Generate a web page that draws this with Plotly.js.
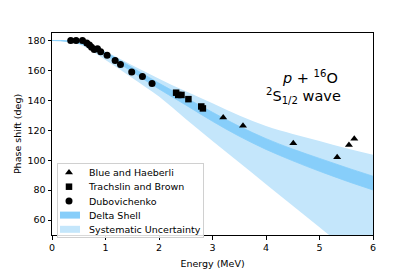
<!DOCTYPE html>
<html><head><meta charset="utf-8">
<script src="https://cdn.plot.ly/plotly-3.0.1.min.js"></script>
<style>html,body{margin:0;padding:0;background:#fff}#c{width:415px;height:277px}</style>
</head><body><div id="c"></div>
<script>
// Band grid (MeV)
const bandE = [0, 0.5, 1, 1.5, 2, 2.5, 3, 3.5, 4, 4.5, 5, 5.5, 6];
const deltaHigh = [180, 178.9, 171.9, 161.9, 151.4, 141.7, 132, 122.6, 114.4, 107.4, 101.2, 95.1, 89.3];
const deltaLow  = [180, 178.1, 170.1, 159.1, 147.6, 136.9, 126, 116, 107.2, 99.6, 92.6, 86.1, 80.1];
const sysHigh   = [180, 179, 172.5, 163.5, 154.5, 146, 138, 129.8, 122.8, 117.5, 112.8, 108, 103.7];
const sysLow    = [180, 177.5, 167, 155, 142.5, 127.5, 112.8, 98.4, 84, 69.6, 55.2, 40.8, 26.4];

// Data points
const blueE = [3.20, 3.57, 4.51, 5.33, 5.55, 5.65];
const blueD = [128.6, 123.0, 111.4, 102.0, 110.2, 114.4];
const trachE = [2.32, 2.36, 2.42, 2.55, 2.79, 2.82];
const trachD = [145.1, 143.6, 143.6, 140.8, 135.9, 134.6];
const dubE = [0.35, 0.45, 0.57, 0.65, 0.70, 0.74, 0.79, 0.85, 0.91, 1.03, 1.18, 1.28, 1.49, 1.69, 1.87];
const dubD = [180, 180, 180, 178.3, 177, 175.4, 174, 174.4, 172.5, 170.1, 166.7, 163.9, 159, 156, 151.3];

const xTicks = [0, 1, 2, 3, 4, 5, 6];
const yTicks = [60, 80, 100, 120, 140, 160, 180];

const FONT = 'DejaVu Sans, sans-serif';
const sysColor = 'rgb(196,230,251)';
const deltaColor = 'rgb(135,206,250)';

const traces = [
  {x: bandE, y: sysLow, mode: 'lines', line: {width: 0, shape: 'spline'}, showlegend: false, hoverinfo: 'skip'},
  {x: bandE, y: sysHigh, mode: 'lines', fill: 'tonexty', fillcolor: sysColor, line: {width: 0, shape: 'spline', color: sysColor},
   name: 'Systematic Uncertainty', legendrank: 5},
  {x: bandE, y: deltaLow, mode: 'lines', line: {width: 0.8, shape: 'spline', color: deltaColor}, showlegend: false, hoverinfo: 'skip'},
  {x: bandE, y: deltaHigh, mode: 'lines', fill: 'tonexty', fillcolor: deltaColor, line: {width: 0.8, shape: 'spline', color: deltaColor},
   name: 'Delta Shell', legendrank: 4},
  {x: blueE, y: blueD, mode: 'markers', marker: {symbol: 'triangle-up', size: 7, color: 'black'}, name: 'Blue and Haeberli', legendrank: 1},
  {x: trachE, y: trachD, mode: 'markers', marker: {symbol: 'square', size: 6.5, color: 'black'}, name: 'Trachslin and Brown', legendrank: 2},
  {x: dubE, y: dubD, mode: 'markers', marker: {symbol: 'circle', size: 7, color: 'black'}, name: 'Dubovichenko', legendrank: 3}
];

const axisCommon = {
  showgrid: false, zeroline: false, showline: true, linecolor: 'black', linewidth: 1, mirror: true,
  ticks: 'outside', ticklen: 3.5, tickwidth: 1, tickcolor: 'black',
  tickfont: {family: FONT, size: 9.5, color: 'black'}
};

const layout = {
  width: 415, height: 277,
  margin: {l: 52, r: 42, t: 33, b: 34},
  paper_bgcolor: 'white', plot_bgcolor: 'white',
  font: {family: FONT, color: 'black'},
  xaxis: Object.assign({}, axisCommon, {range: [0, 6], tickvals: xTicks,
    title: {text: 'Energy (MeV)', font: {family: FONT, size: 9.5}, standoff: 8}}),
  yaxis: Object.assign({}, axisCommon, {range: [50, 185], tickvals: yTicks,
    title: {text: 'Phase shift (deg)', font: {family: FONT, size: 9.5}, standoff: 4}}),
  legend: {x: 0.016, y: 0.381, xanchor: 'left', yanchor: 'top', bgcolor: 'rgba(255,255,255,0.85)',
    bordercolor: '#d0d0d0', borderwidth: 1, font: {family: FONT, size: 9.5}, traceorder: 'normal'},
  annotations: [
    {x: 4.83, y: 155.6, xref: 'x', yref: 'y', text: '<i>p</i> + <sup>16</sup>O', showarrow: false,
     font: {family: FONT, size: 14.5, color: 'black'}},
    {x: 4.70, y: 142.6, xref: 'x', yref: 'y', text: '<sup>2</sup>S<sub>1/2</sub> wave', showarrow: false,
     font: {family: FONT, size: 14.5, color: 'black'}}
  ],
  showlegend: true
};

Plotly.newPlot('c', traces, layout, {staticPlot: true, displayModeBar: false}).then(function (gd) {
  // compact the legend rows to match the reference spacing
  const leg = gd.querySelector('.legend');
  if (!leg) return;
  leg.setAttribute('transform', 'translate(57,163)');
  const items = leg.querySelectorAll('.traces');
  const rowGap = 14.2, firstRow = 9.5, xShift = -8;
  items.forEach(function (g, i) {
    g.setAttribute('transform', 'translate(' + xShift + ',' + (firstRow + rowGap * i) + ')');
  });
  leg.querySelectorAll('.legendfill path').forEach(function (p) {
    p.setAttribute('d', 'M11,-3.5h20v7h-20z');
  });
  leg.querySelectorAll('.traces').forEach(function (g) {
    if (g.querySelector('.legendfill path')) {
      g.querySelectorAll('.legendlines path').forEach(function (p) { p.style.display = 'none'; });
    }
  });
  const H = 74, W = 146;
  const bg = leg.querySelector('rect.bg');
  if (bg) { bg.setAttribute('height', H); bg.setAttribute('width', W); }
  document.querySelectorAll('clipPath[id^="legend"] rect').forEach(function (r) {
    r.setAttribute('height', H); r.setAttribute('width', W);
  });
});
</script>
</body></html>
